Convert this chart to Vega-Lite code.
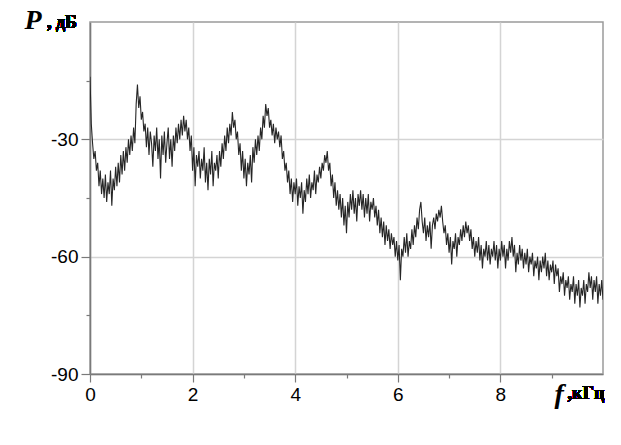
{
"$schema": "https://vega.github.io/schema/vega-lite/v6.json",
"width": 513, "height": 352,
"autosize": "none",
"padding": {"left": 90, "top": 22, "right": 18, "bottom": 71},
"background": "white",
"config": {"view": {"stroke": "#9a9a9a", "strokeWidth": 1.5}},
"data": {"values": [
{"f":0.000,"p":-14},{"f":0.025,"p":-26},{"f":0.050,"p":-31},{"f":0.075,"p":-35},{"f":0.100,"p":-33},{"f":0.125,"p":-38},{"f":0.150,"p":-36},{"f":0.175,"p":-42},{"f":0.200,"p":-38},{"f":0.225,"p":-44},
{"f":0.250,"p":-40},{"f":0.275,"p":-45},{"f":0.300,"p":-39},{"f":0.325,"p":-46},{"f":0.350,"p":-41},{"f":0.375,"p":-44},{"f":0.400,"p":-38},{"f":0.425,"p":-47},{"f":0.450,"p":-40},{"f":0.475,"p":-43},
{"f":0.500,"p":-37},{"f":0.525,"p":-42},{"f":0.550,"p":-36},{"f":0.575,"p":-41},{"f":0.600,"p":-34},{"f":0.625,"p":-39},{"f":0.650,"p":-33},{"f":0.675,"p":-38},{"f":0.700,"p":-32},{"f":0.725,"p":-36},
{"f":0.750,"p":-30},{"f":0.775,"p":-34},{"f":0.800,"p":-29},{"f":0.825,"p":-33},{"f":0.850,"p":-27},{"f":0.875,"p":-31},{"f":0.900,"p":-21},{"f":0.925,"p":-16},{"f":0.950,"p":-22},{"f":0.975,"p":-19},
{"f":1.000,"p":-25},{"f":1.025,"p":-23},{"f":1.050,"p":-28},{"f":1.075,"p":-26},{"f":1.100,"p":-32},{"f":1.125,"p":-27},{"f":1.150,"p":-34},{"f":1.175,"p":-28},{"f":1.200,"p":-31},{"f":1.225,"p":-37},
{"f":1.250,"p":-29},{"f":1.275,"p":-33},{"f":1.300,"p":-27},{"f":1.325,"p":-35},{"f":1.350,"p":-30},{"f":1.375,"p":-40},{"f":1.400,"p":-29},{"f":1.425,"p":-34},{"f":1.450,"p":-28},{"f":1.475,"p":-36},
{"f":1.500,"p":-31},{"f":1.525,"p":-27},{"f":1.550,"p":-35},{"f":1.575,"p":-30},{"f":1.600,"p":-37},{"f":1.625,"p":-29},{"f":1.650,"p":-33},{"f":1.675,"p":-27},{"f":1.700,"p":-31},{"f":1.725,"p":-26},
{"f":1.750,"p":-30},{"f":1.775,"p":-25},{"f":1.800,"p":-29},{"f":1.825,"p":-24},{"f":1.850,"p":-28},{"f":1.875,"p":-25},{"f":1.900,"p":-30},{"f":1.925,"p":-27},{"f":1.950,"p":-33},{"f":1.975,"p":-29},
{"f":2.000,"p":-38},{"f":2.025,"p":-32},{"f":2.050,"p":-42},{"f":2.075,"p":-34},{"f":2.100,"p":-37},{"f":2.125,"p":-33},{"f":2.150,"p":-40},{"f":2.175,"p":-35},{"f":2.200,"p":-38},{"f":2.225,"p":-32},
{"f":2.250,"p":-41},{"f":2.275,"p":-36},{"f":2.300,"p":-43},{"f":2.325,"p":-35},{"f":2.350,"p":-39},{"f":2.375,"p":-33},{"f":2.400,"p":-42},{"f":2.425,"p":-36},{"f":2.450,"p":-38},{"f":2.475,"p":-34},
{"f":2.500,"p":-40},{"f":2.525,"p":-33},{"f":2.550,"p":-37},{"f":2.575,"p":-31},{"f":2.600,"p":-35},{"f":2.625,"p":-29},{"f":2.650,"p":-33},{"f":2.675,"p":-27},{"f":2.700,"p":-31},{"f":2.725,"p":-26},
{"f":2.750,"p":-29},{"f":2.775,"p":-23},{"f":2.800,"p":-27},{"f":2.825,"p":-25},{"f":2.850,"p":-30},{"f":2.875,"p":-28},{"f":2.900,"p":-34},{"f":2.925,"p":-31},{"f":2.950,"p":-38},{"f":2.975,"p":-33},
{"f":3.000,"p":-40},{"f":3.025,"p":-35},{"f":3.050,"p":-42},{"f":3.075,"p":-36},{"f":3.100,"p":-39},{"f":3.125,"p":-34},{"f":3.150,"p":-41},{"f":3.175,"p":-32},{"f":3.200,"p":-36},{"f":3.225,"p":-30},
{"f":3.250,"p":-34},{"f":3.275,"p":-29},{"f":3.300,"p":-33},{"f":3.325,"p":-27},{"f":3.350,"p":-30},{"f":3.375,"p":-24},{"f":3.400,"p":-27},{"f":3.425,"p":-21},{"f":3.450,"p":-24},{"f":3.475,"p":-22},
{"f":3.500,"p":-27},{"f":3.525,"p":-25},{"f":3.550,"p":-29},{"f":3.575,"p":-26},{"f":3.600,"p":-31},{"f":3.625,"p":-27},{"f":3.650,"p":-30},{"f":3.675,"p":-28},{"f":3.700,"p":-32},{"f":3.725,"p":-29},
{"f":3.750,"p":-35},{"f":3.775,"p":-33},{"f":3.800,"p":-38},{"f":3.825,"p":-36},{"f":3.850,"p":-41},{"f":3.875,"p":-38},{"f":3.900,"p":-44},{"f":3.925,"p":-40},{"f":3.950,"p":-46},{"f":3.975,"p":-41},
{"f":4.000,"p":-44},{"f":4.025,"p":-40},{"f":4.050,"p":-47},{"f":4.075,"p":-42},{"f":4.100,"p":-45},{"f":4.125,"p":-41},{"f":4.150,"p":-49},{"f":4.175,"p":-43},{"f":4.200,"p":-46},{"f":4.225,"p":-40},
{"f":4.250,"p":-44},{"f":4.275,"p":-39},{"f":4.300,"p":-45},{"f":4.325,"p":-41},{"f":4.350,"p":-43},{"f":4.375,"p":-38},{"f":4.400,"p":-44},{"f":4.425,"p":-39},{"f":4.450,"p":-41},{"f":4.475,"p":-37},
{"f":4.500,"p":-40},{"f":4.525,"p":-36},{"f":4.550,"p":-38},{"f":4.575,"p":-34},{"f":4.600,"p":-36},{"f":4.625,"p":-33},{"f":4.650,"p":-38},{"f":4.675,"p":-36},{"f":4.700,"p":-42},{"f":4.725,"p":-39},
{"f":4.750,"p":-45},{"f":4.775,"p":-41},{"f":4.800,"p":-47},{"f":4.825,"p":-43},{"f":4.850,"p":-48},{"f":4.875,"p":-44},{"f":4.900,"p":-50},{"f":4.925,"p":-45},{"f":4.950,"p":-52},{"f":4.975,"p":-47},
{"f":5.000,"p":-54},{"f":5.025,"p":-46},{"f":5.050,"p":-50},{"f":5.075,"p":-44},{"f":5.100,"p":-48},{"f":5.125,"p":-43},{"f":5.150,"p":-49},{"f":5.175,"p":-45},{"f":5.200,"p":-51},{"f":5.225,"p":-44},
{"f":5.250,"p":-47},{"f":5.275,"p":-43},{"f":5.300,"p":-48},{"f":5.325,"p":-44},{"f":5.350,"p":-50},{"f":5.375,"p":-45},{"f":5.400,"p":-49},{"f":5.425,"p":-44},{"f":5.450,"p":-51},{"f":5.475,"p":-46},
{"f":5.500,"p":-48},{"f":5.525,"p":-45},{"f":5.550,"p":-50},{"f":5.575,"p":-47},{"f":5.600,"p":-52},{"f":5.625,"p":-48},{"f":5.650,"p":-54},{"f":5.675,"p":-50},{"f":5.700,"p":-55},{"f":5.725,"p":-51},
{"f":5.750,"p":-57},{"f":5.775,"p":-52},{"f":5.800,"p":-56},{"f":5.825,"p":-53},{"f":5.850,"p":-58},{"f":5.875,"p":-54},{"f":5.900,"p":-57},{"f":5.925,"p":-55},{"f":5.950,"p":-60},{"f":5.975,"p":-56},
{"f":6.000,"p":-61},{"f":6.025,"p":-57},{"f":6.050,"p":-66},{"f":6.075,"p":-58},{"f":6.100,"p":-60},{"f":6.125,"p":-55},{"f":6.150,"p":-59},{"f":6.175,"p":-54},{"f":6.200,"p":-60},{"f":6.225,"p":-56},
{"f":6.250,"p":-58},{"f":6.275,"p":-53},{"f":6.300,"p":-57},{"f":6.325,"p":-52},{"f":6.350,"p":-55},{"f":6.375,"p":-50},{"f":6.400,"p":-53},{"f":6.425,"p":-48},{"f":6.450,"p":-46},{"f":6.475,"p":-51},
{"f":6.500,"p":-54},{"f":6.525,"p":-50},{"f":6.550,"p":-56},{"f":6.575,"p":-52},{"f":6.600,"p":-55},{"f":6.625,"p":-51},{"f":6.650,"p":-58},{"f":6.675,"p":-52},{"f":6.700,"p":-50},{"f":6.725,"p":-53},
{"f":6.750,"p":-49},{"f":6.775,"p":-51},{"f":6.800,"p":-48},{"f":6.825,"p":-50},{"f":6.850,"p":-47},{"f":6.875,"p":-51},{"f":6.900,"p":-54},{"f":6.925,"p":-52},{"f":6.950,"p":-57},{"f":6.975,"p":-54},
{"f":7.000,"p":-59},{"f":7.025,"p":-55},{"f":7.050,"p":-62},{"f":7.075,"p":-56},{"f":7.100,"p":-58},{"f":7.125,"p":-54},{"f":7.150,"p":-60},{"f":7.175,"p":-55},{"f":7.200,"p":-57},{"f":7.225,"p":-53},
{"f":7.250,"p":-56},{"f":7.275,"p":-52},{"f":7.300,"p":-55},{"f":7.325,"p":-51},{"f":7.350,"p":-54},{"f":7.375,"p":-52},{"f":7.400,"p":-56},{"f":7.425,"p":-53},{"f":7.450,"p":-58},{"f":7.475,"p":-55},
{"f":7.500,"p":-60},{"f":7.525,"p":-56},{"f":7.550,"p":-59},{"f":7.575,"p":-55},{"f":7.600,"p":-61},{"f":7.625,"p":-57},{"f":7.650,"p":-63},{"f":7.675,"p":-58},{"f":7.700,"p":-60},{"f":7.725,"p":-56},
{"f":7.750,"p":-61},{"f":7.775,"p":-57},{"f":7.800,"p":-62},{"f":7.825,"p":-58},{"f":7.850,"p":-60},{"f":7.875,"p":-56},{"f":7.900,"p":-61},{"f":7.925,"p":-57},{"f":7.950,"p":-63},{"f":7.975,"p":-58},
{"f":8.000,"p":-61},{"f":8.025,"p":-56},{"f":8.050,"p":-60},{"f":8.075,"p":-57},{"f":8.100,"p":-63},{"f":8.125,"p":-58},{"f":8.150,"p":-61},{"f":8.175,"p":-56},{"f":8.200,"p":-59},{"f":8.225,"p":-55},
{"f":8.250,"p":-60},{"f":8.275,"p":-57},{"f":8.300,"p":-64},{"f":8.325,"p":-59},{"f":8.350,"p":-62},{"f":8.375,"p":-57},{"f":8.400,"p":-61},{"f":8.425,"p":-58},{"f":8.450,"p":-63},{"f":8.475,"p":-59},
{"f":8.500,"p":-62},{"f":8.525,"p":-58},{"f":8.550,"p":-64},{"f":8.575,"p":-60},{"f":8.600,"p":-62},{"f":8.625,"p":-59},{"f":8.650,"p":-65},{"f":8.675,"p":-61},{"f":8.700,"p":-63},{"f":8.725,"p":-60},
{"f":8.750,"p":-66},{"f":8.775,"p":-61},{"f":8.800,"p":-64},{"f":8.825,"p":-60},{"f":8.850,"p":-63},{"f":8.875,"p":-59},{"f":8.900,"p":-65},{"f":8.925,"p":-61},{"f":8.950,"p":-66},{"f":8.975,"p":-62},
{"f":9.000,"p":-64},{"f":9.025,"p":-61},{"f":9.050,"p":-67},{"f":9.075,"p":-62},{"f":9.100,"p":-65},{"f":9.125,"p":-63},{"f":9.150,"p":-69},{"f":9.175,"p":-65},{"f":9.200,"p":-67},{"f":9.225,"p":-64},
{"f":9.250,"p":-70},{"f":9.275,"p":-66},{"f":9.300,"p":-68},{"f":9.325,"p":-65},{"f":9.350,"p":-71},{"f":9.375,"p":-67},{"f":9.400,"p":-69},{"f":9.425,"p":-65},{"f":9.450,"p":-72},{"f":9.475,"p":-67},
{"f":9.500,"p":-70},{"f":9.525,"p":-66},{"f":9.550,"p":-73},{"f":9.575,"p":-68},{"f":9.600,"p":-70},{"f":9.625,"p":-66},{"f":9.650,"p":-72},{"f":9.675,"p":-67},{"f":9.700,"p":-69},{"f":9.725,"p":-64},
{"f":9.750,"p":-68},{"f":9.775,"p":-65},{"f":9.800,"p":-71},{"f":9.825,"p":-66},{"f":9.850,"p":-69},{"f":9.875,"p":-65},{"f":9.900,"p":-72},{"f":9.925,"p":-67},{"f":9.950,"p":-70},{"f":9.975,"p":-66},
{"f":10.000,"p":-71}
]},
"resolve": {"axis": {"x": "independent", "y": "independent"}},
"layer": [
{
"mark": {"type": "line", "color": "#262626", "strokeWidth": 1.1, "clip": true},
"encoding": {
"x": {"field": "f", "type": "quantitative", "scale": {"domain": [0, 10], "nice": false, "zero": false},
  "axis": {"orient": "bottom", "values": [0, 2, 4, 6, 8], "grid": true, "gridColor": "#d4d4d4", "gridWidth": 1.5,
    "domainColor": "#7a7a7a", "domainWidth": 1.5, "tickColor": "#7a7a7a", "tickSize": 8, "tickWidth": 1.2,
    "labelFont": "Liberation Sans", "labelFontSize": 19, "labelColor": "#000", "labelPadding": 3, "labelFlush": false,
    "labelExpr": "'' + datum.value",
    "title": "f", "titleFont": "Liberation Serif", "titleFontSize": 28, "titleFontWeight": "bold", "titleFontStyle": "italic",
    "titleColor": "#000", "titleAlign": "left", "titleBaseline": "alphabetic", "titleAnchor": "start", "titleX": 464, "titleY": 28}},
"y": {"field": "p", "type": "quantitative", "scale": {"domain": [-90, 0], "nice": false, "zero": false},
  "axis": {"orient": "left", "values": [-30, -60, -90], "grid": true, "gridColor": "#d4d4d4", "gridWidth": 1.5,
    "domainColor": "#7a7a7a", "domainWidth": 1.5, "tickColor": "#7a7a7a", "tickSize": 9, "tickWidth": 1.2,
    "labelFont": "Liberation Sans", "labelFontSize": 19, "labelColor": "#000", "labelPadding": 3, "labelFlush": false,
    "labelExpr": "'' + datum.value",
    "title": "P", "titleFont": "Liberation Serif", "titleFontSize": 28, "titleFontWeight": "bold", "titleFontStyle": "italic",
    "titleColor": "#000", "titleAngle": 0, "titleAlign": "left", "titleBaseline": "alphabetic", "titleX": -66, "titleY": 6}}
}
},
{
"mark": {"type": "text", "text": ", дБ", "font": "Liberation Serif", "fontSize": 18, "fontWeight": "bold", "color": "#000", "align": "left", "baseline": "alphabetic"},
"encoding": {
"x": {"datum": -0.84, "type": "quantitative",
  "axis": {"orient": "bottom", "values": [1, 3, 5, 7, 9], "labels": false, "grid": false, "domain": false, "tickColor": "#7a7a7a", "tickSize": 4, "tickWidth": 1.2, "title": null}},
"y": {"datum": -1.5, "type": "quantitative",
  "axis": {"orient": "left", "values": [-15, -45, -75], "labels": false, "grid": false, "domain": false, "tickColor": "#7a7a7a", "tickSize": 4, "tickWidth": 1.2, "title": null}}
}
},
{
"mark": {"type": "text", "text": ",кГц", "font": "Liberation Serif", "fontSize": 18, "fontWeight": "bold", "color": "#000", "align": "left", "baseline": "alphabetic"},
"encoding": {
"x": {"datum": 9.31, "type": "quantitative", "axis": null},
"y": {"datum": -96.4, "type": "quantitative", "axis": null}
}
}
]
}
